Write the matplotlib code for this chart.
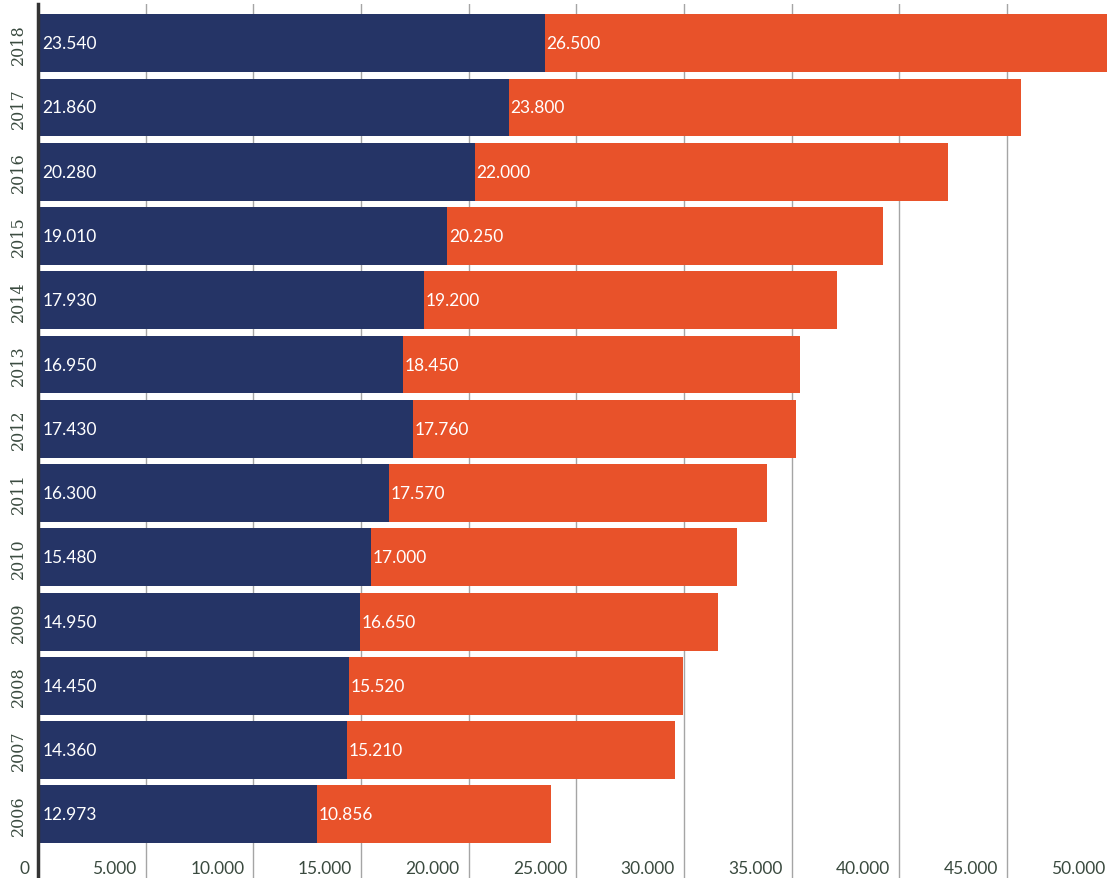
import matplotlib
import matplotlib.pyplot as plt
import matplotlib.transforms as mtransforms

matplotlib.use('Agg')

years = ['2006', '2007', '2008', '2009', '2010', '2011', '2012',
         '2013', '2014', '2015', '2016', '2017', '2018']
navy_vals = [12973, 14360, 14450, 14950, 15480, 16300, 17430,
             16950, 17930, 19010, 20280, 21860, 23540]
orange_vals = [10856, 15210, 15520, 16650, 17000, 17570, 17760,
               18450, 19200, 20250, 22000, 23800, 26500]
x_ticks = [0, 5000, 10000, 15000, 20000, 25000, 30000, 35000, 40000, 45000, 50000]
x_tick_labels = ['0', '5.000', '10.000', '15.000', '20.000', '25.000', '30.000',
                 '35.000', '40.000', '45.000', '50.000']

NAVY = '#253466'
ORANGE = '#e8522a'
TEXT = '#3a4a3f'

plt.rcParams['font.family'] = ['Lato', 'DejaVu Sans']


def fmt(v):
    return f'{v:,}'.replace(',', '.')


fig = plt.figure(figsize=(11.07, 8.79), dpi=100)
ax = fig.add_axes([38 / 1107, 0, 1 - 38 / 1107, 1 - 5 / 879])

pos = list(range(len(years)))
ax.barh(pos, navy_vals, height=0.9, color=NAVY, zorder=2)
ax.barh(pos, orange_vals, left=navy_vals, height=0.9, color=ORANGE, zorder=2)

for i, (n, o) in enumerate(zip(navy_vals, orange_vals)):
    ax.text(200, i, fmt(n), color='white', fontsize=12.5, va='center', ha='left', zorder=3)
    ax.text(n + 80, i, fmt(o), color='white', fontsize=12.5, va='center', ha='left', zorder=3)

ax.set_xlim(0, 49650)
ax.set_ylim(-0.99, 12.61)

for x in x_ticks[1:]:
    ax.axvline(x, color='#a5a5a5', lw=1, zorder=1)

# x tick labels sit inside the axes, just left of their grid line
for x, lab in zip(x_ticks, x_tick_labels):
    ax.annotate(lab, xy=(x, -0.84), xycoords='data', xytext=(-9, 0),
                textcoords='offset pixels', ha='right', va='center',
                fontsize=12.5, color=TEXT, annotation_clip=False)

# rotated year labels left of the spine
trans = mtransforms.blended_transform_factory(fig.transFigure, ax.transData)
for i, y in enumerate(years):
    fig.text(18 / 1107, i, y, transform=trans, rotation=90, ha='center', va='center',
             fontsize=11.5, color=TEXT, family='DejaVu Serif')

ax.set_xticks([])
ax.set_yticks([])
for s in ['top', 'right', 'bottom']:
    ax.spines[s].set_visible(False)
ax.spines['left'].set_color('#333333')
ax.spines['left'].set_linewidth(2.5)
ax.spines['left'].set_zorder(4)

fig.savefig('out.png', dpi=100)
